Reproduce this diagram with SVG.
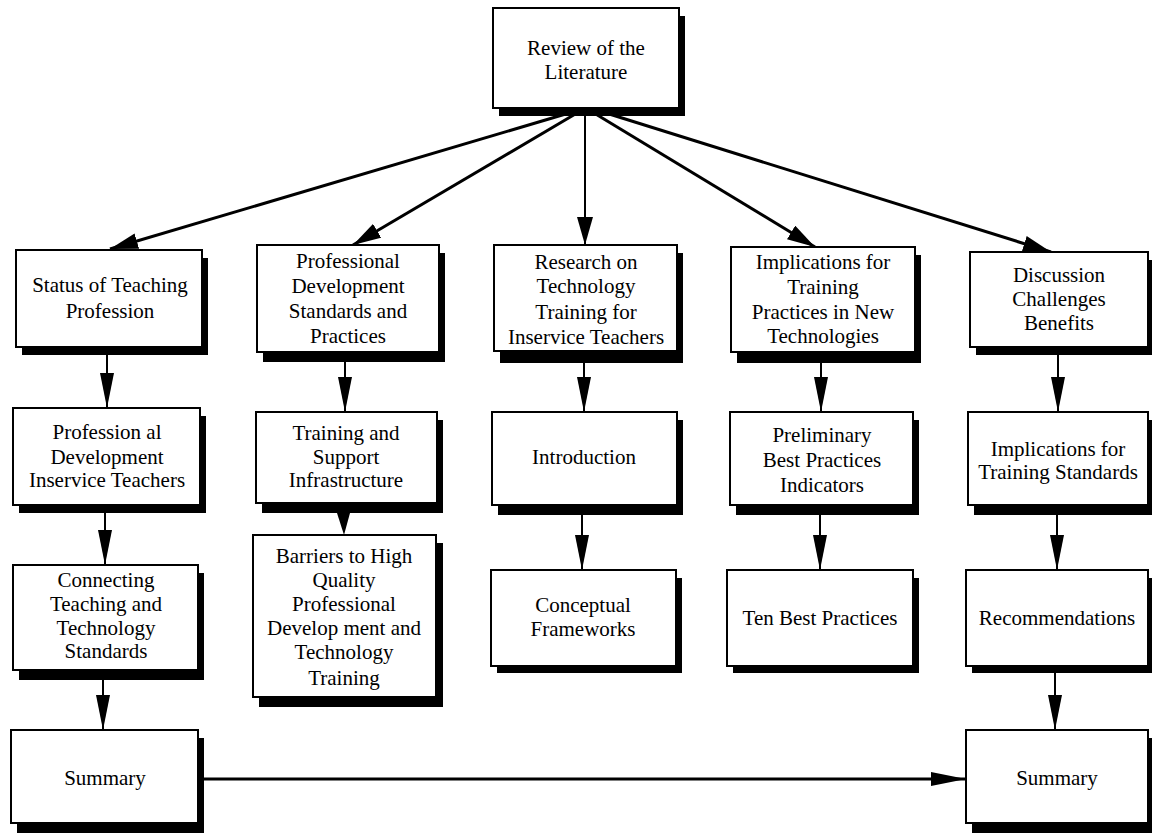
<svg xmlns="http://www.w3.org/2000/svg" width="1152" height="833" viewBox="0 0 1152 833">
<style>
.sh{fill:#000}
.bx{fill:#fff;stroke:#000;stroke-width:2}
text{font-family:"Liberation Serif","Times New Roman",serif;font-size:21px;fill:#000;text-anchor:middle}
.c{stroke:#000;fill:none}
.w3{stroke-width:3}
.w2{stroke-width:2}
</style>
<defs>
<marker id="ah" markerUnits="userSpaceOnUse" markerWidth="30" markerHeight="16" refX="28" refY="8" orient="auto">
<path d="M0,0 L28,8 L0,16 z" fill="#000"/>
</marker>
<marker id="av" markerUnits="userSpaceOnUse" markerWidth="36" markerHeight="14" refX="35" refY="7" orient="auto">
<path d="M0,0 L35,7 L0,14 z" fill="#000"/>
</marker>
</defs>
<rect width="1152" height="833" fill="#fff"/>

<g id="connectors">
<path class="c w3" d="M569,113 L110,249" marker-end="url(#ah)"/>
<path class="c w3" d="M577,113 L353,245" marker-end="url(#ah)"/>
<path class="c w2" d="M585,113 L585,245" marker-end="url(#ah)"/>
<path class="c w3" d="M594,113 L815,247" marker-end="url(#ah)"/>
<path class="c w3" d="M606,113 L1051,252" marker-end="url(#ah)"/>

<path class="c w2" d="M107,354 L107,408" marker-end="url(#av)"/>
<path class="c w2" d="M345,362 L345,412" marker-end="url(#av)"/>
<path class="c w2" d="M584,363 L584,412" marker-end="url(#av)"/>
<path class="c w2" d="M821,363 L821,412" marker-end="url(#av)"/>
<path class="c w2" d="M1058,355 L1058,412" marker-end="url(#av)"/>

<path class="c w2" d="M105,513 L105,565" marker-end="url(#av)"/>
<polygon points="337,513 350,513 344,535" fill="#000"/>
<path class="c w2" d="M582,515 L582,570" marker-end="url(#av)"/>
<path class="c w2" d="M820,515 L820,570" marker-end="url(#av)"/>
<path class="c w2" d="M1057,515 L1057,570" marker-end="url(#av)"/>

<path class="c w2" d="M103,680 L103,730" marker-end="url(#av)"/>
<path class="c w2" d="M1055,673 L1055,730" marker-end="url(#av)"/>

<path class="c w3" d="M198,779 L966,779" marker-end="url(#av)"/>
</g>

<g id="review">
<rect class="sh" x="499" y="16" width="186" height="100"/>
<rect class="bx" x="493" y="8" width="186" height="100"/>
<text x="586" y="55">Review of the</text>
<text x="586" y="79">Literature</text>
</g>

<g id="status">
<rect class="sh" x="22" y="258" width="186" height="97"/>
<rect class="bx" x="16" y="250" width="186" height="97"/>
<text x="110" y="292">Status of Teaching</text>
<text x="110" y="318">Profession</text>
</g>

<g id="profdev">
<rect class="sh" x="263" y="253" width="182" height="109"/>
<rect class="bx" x="257" y="245" width="182" height="107"/>
<text x="348" y="268">Professional</text>
<text x="348" y="293">Development</text>
<text x="348" y="318">Standards and</text>
<text x="348" y="343">Practices</text>
</g>

<g id="research">
<rect class="sh" x="500" y="253" width="183" height="110"/>
<rect class="bx" x="494" y="245" width="183" height="106"/>
<text x="586" y="269">Research on</text>
<text x="586" y="293">Technology</text>
<text x="586" y="319">Training for</text>
<text x="586" y="344">Inservice Teachers</text>
</g>

<g id="implications">
<rect class="sh" x="737" y="255" width="184" height="108"/>
<rect class="bx" x="731" y="247" width="184" height="105"/>
<text x="823" y="269">Implications for</text>
<text x="823" y="294">Training</text>
<text x="823" y="319">Practices in New</text>
<text x="823" y="343">Technologies</text>
</g>

<g id="discussion">
<rect class="sh" x="976" y="260" width="176" height="95"/>
<rect class="bx" x="970" y="252" width="178" height="95"/>
<text x="1059" y="282">Discussion</text>
<text x="1059" y="306">Challenges</text>
<text x="1059" y="330">Benefits</text>
</g>

<g id="profinservice">
<rect class="sh" x="19" y="416" width="187" height="97"/>
<rect class="bx" x="13" y="408" width="187" height="97"/>
<text x="107" y="439">Profession al</text>
<text x="107" y="464">Development</text>
<text x="107" y="487">Inservice Teachers</text>
</g>

<g id="training">
<rect class="sh" x="262" y="420" width="181" height="93"/>
<rect class="bx" x="256" y="412" width="181" height="91"/>
<text x="346" y="440">Training and</text>
<text x="346" y="464">Support</text>
<text x="346" y="487">Infrastructure</text>
</g>

<g id="introduction">
<rect class="sh" x="498" y="420" width="185" height="95"/>
<rect class="bx" x="492" y="412" width="185" height="93"/>
<text x="584" y="464">Introduction</text>
</g>

<g id="preliminary">
<rect class="sh" x="736" y="420" width="183" height="95"/>
<rect class="bx" x="730" y="412" width="183" height="93"/>
<text x="822" y="442">Preliminary</text>
<text x="822" y="467">Best Practices</text>
<text x="822" y="492">Indicators</text>
</g>

<g id="trainingstandards">
<rect class="sh" x="974" y="420" width="178" height="95"/>
<rect class="bx" x="968" y="412" width="180" height="93"/>
<text x="1058" y="456">Implications for</text>
<text x="1058" y="479">Training Standards</text>
</g>

<g id="connecting">
<rect class="sh" x="19" y="573" width="185" height="107"/>
<rect class="bx" x="13" y="565" width="185" height="105"/>
<text x="106" y="587">Connecting</text>
<text x="106" y="611">Teaching and</text>
<text x="106" y="635">Technology</text>
<text x="106" y="658">Standards</text>
</g>

<g id="barriers">
<rect class="sh" x="259" y="543" width="184" height="164"/>
<rect class="bx" x="253" y="535" width="183" height="162"/>
<text x="344" y="563">Barriers to High</text>
<text x="344" y="587">Quality</text>
<text x="344" y="611">Professional</text>
<text x="344" y="635">Develop ment and</text>
<text x="344" y="659">Technology</text>
<text x="344" y="685">Training</text>
</g>

<g id="conceptual">
<rect class="sh" x="497" y="578" width="185" height="95"/>
<rect class="bx" x="491" y="570" width="185" height="96"/>
<text x="583" y="612">Conceptual</text>
<text x="583" y="636">Frameworks</text>
</g>

<g id="tenbest">
<rect class="sh" x="733" y="578" width="186" height="95"/>
<rect class="bx" x="727" y="570" width="186" height="96"/>
<text x="820" y="625">Ten Best Practices</text>
</g>

<g id="recommendations">
<rect class="sh" x="972" y="578" width="180" height="95"/>
<rect class="bx" x="966" y="570" width="182" height="96"/>
<text x="1057" y="625">Recommendations</text>
</g>

<g id="summaryleft">
<rect class="sh" x="17" y="738" width="187" height="95"/>
<rect class="bx" x="11" y="730" width="187" height="93"/>
<text x="105" y="785">Summary</text>
</g>

<g id="summaryright">
<rect class="sh" x="972" y="738" width="180" height="95"/>
<rect class="bx" x="966" y="730" width="182" height="93"/>
<text x="1057" y="785">Summary</text>
</g>
</svg>
